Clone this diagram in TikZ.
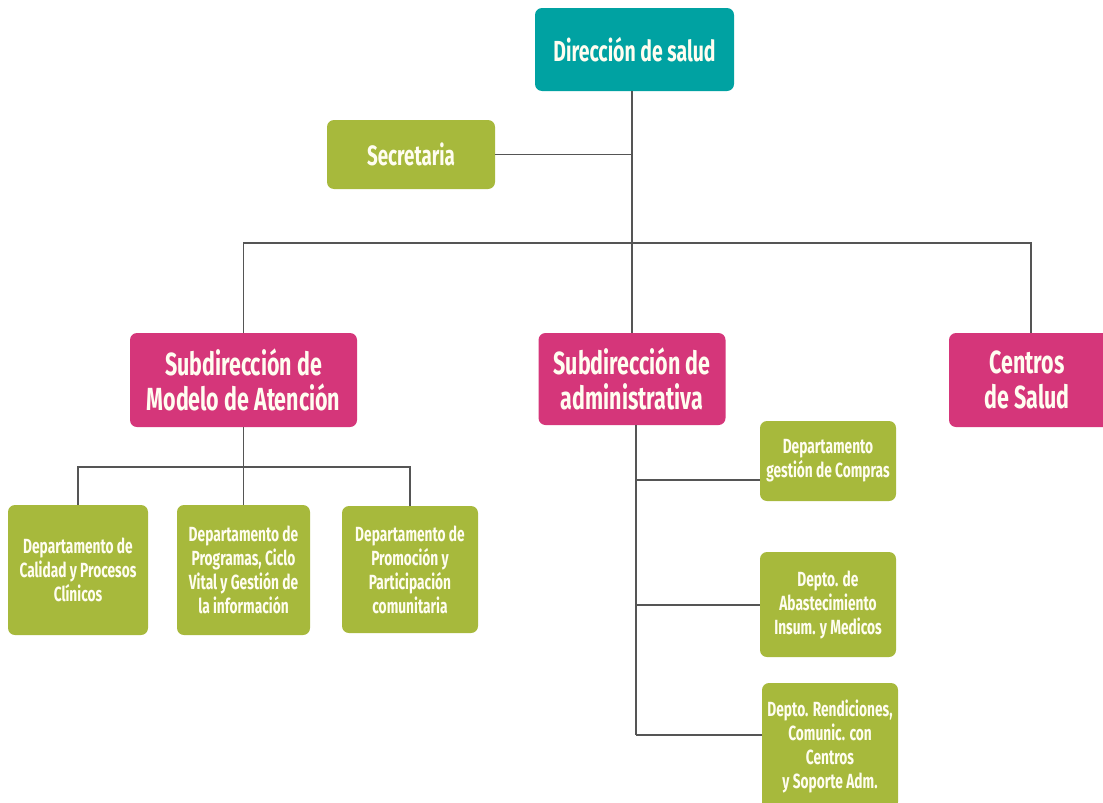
\documentclass[tikz,border=0pt]{standalone}
\usepackage{fontspec}
\setmainfont{Fira Sans}[FakeStretch=0.67]
\definecolor{teal1}{RGB}{0,162,162}
\definecolor{green1}{RGB}{167,185,60}
\definecolor{pink1}{RGB}{213,54,122}
\definecolor{txt}{RGB}{255,253,240}
\definecolor{line1}{RGB}{85,85,85}
\tikzset{
  box/.style={rounded corners=7pt, text=txt, align=center, inner sep=1pt, font=\bfseries},
  topbox/.style={box, fill=teal1, font=\fontsize{29}{34}\selectfont\bfseries},
  subbox/.style={box, fill=pink1, font=\fontsize{32}{35}\selectfont\bfseries},
  secbox/.style={box, fill=green1, font=\fontsize{28}{32}\selectfont\bfseries},
  deptbox/.style={box, fill=green1, font=\fontsize{20.5}{24}\selectfont\bfseries},
  conn/.style={draw=line1, line width=1.4pt},
}
\begin{document}
\begin{tikzpicture}[x=1pt,y=-1pt]
\useasboundingbox (0,0) rectangle (1103,803);
\clip (0,0) rectangle (1103,803);
% nodes
\node[topbox, minimum width=199pt, minimum height=83pt] (dir) at (634.5,49.5) {Dirección de salud};
\node[secbox, minimum width=168pt, minimum height=69pt] (sec) at (411,154.5) {Secretaria};
\node[subbox, minimum width=227pt, minimum height=94pt] (model) at (243.5,380) {Subdirección de\\Modelo de Atención};
\node[subbox, minimum width=187pt, minimum height=92pt] (admin) at (632,379) {Subdirección de\\administrativa};
\node[subbox, minimum width=164pt, minimum height=94pt] (cent) at (1031,380) {\hspace*{-8pt}Centros\\\hspace*{-8pt}de Salud};
\node[deptbox, minimum width=140pt, minimum height=130pt] (cal) at (78,570) {Departamento de\\Calidad y Procesos\\Clínicos};
\node[deptbox, minimum width=133pt, minimum height=130pt] (prog) at (243.5,570) {Departamento de\\Programas, Ciclo\\Vital y Gestión de\\la información};
\node[deptbox, minimum width=136pt, minimum height=127pt] (prom) at (410,569.5) {Departamento de\\Promoción y\\Participación\\comunitaria};
\node[deptbox, minimum width=136pt, minimum height=80pt] (comp) at (828,461) {Departamento\\gestión de Compras};
\node[deptbox, minimum width=136pt, minimum height=105pt] (abas) at (828,604.5) {Depto. de\\Abastecimiento\\Insum. y Medicos};
\node[deptbox, minimum width=136pt, minimum height=126pt] (rend) at (830,746) {Depto. Rendiciones,\\Comunic. con\\Centros\\y Soporte Adm.};
% connector coordinates
\coordinate (bus) at (632,243);
\coordinate (mbus) at (243.5,467);
\coordinate (b1) at (636,480);
\coordinate (b2) at (636,605);
\coordinate (b3) at (636,735);
% connectors
\draw[conn] (dir.south -| admin.north) -- (admin.north);
\draw[conn] (sec.east) -- (sec.east -| admin.north);
\draw[conn] (model.north) |- (bus) -| (cent.north);
\draw[conn] (model.south) -- (prog.north);
\draw[conn] (cal.north) |- (mbus) -| (prom.north);
\draw[conn] (admin.south -| b1) -- (b3);
\draw[conn] (b1) -- (b1 -| comp.west);
\draw[conn] (b2) -- (b2 -| abas.west);
\draw[conn] (b3) -- (b3 -| rend.west);
\end{tikzpicture}
\end{document}
